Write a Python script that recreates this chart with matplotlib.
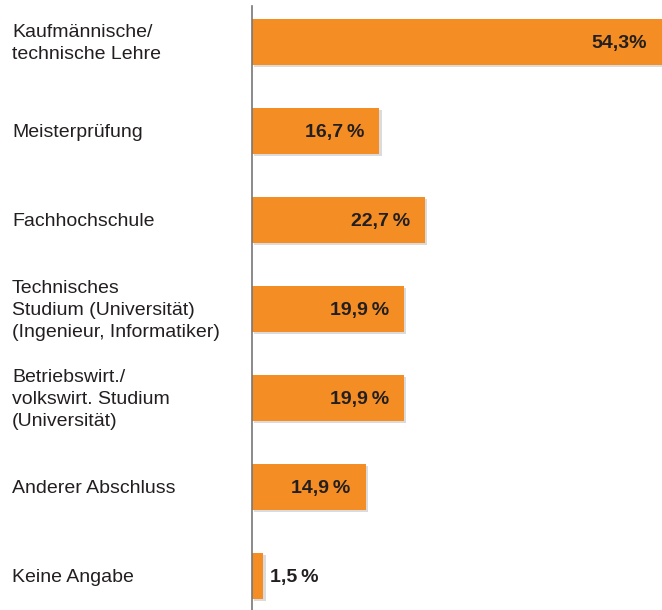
import matplotlib.pyplot as plt
import matplotlib.patheffects as pe

categories = ["Kaufmännische/\ntechnische Lehre", "Meisterprüfung", "Fachhochschule",
              "Technisches\nStudium (Universität)\n(Ingenieur, Informatiker)",
              "Betriebswirt./\nvolkswirt. Studium\n(Universität)",
              "Anderer Abschluss", "Keine Angabe"]
values = [54.3, 16.7, 22.7, 19.9, 19.9, 14.9, 1.5]
value_labels = ["54,3%", "16,7\u2009%", "22,7\u2009%", "19,9\u2009%", "19,9\u2009%", "14,9\u2009%", "1,5\u2009%"]

plt.rcParams['font.family'] = ['Liberation Sans', 'DejaVu Sans']

W, H = 662, 610
fig = plt.figure(figsize=(W / 100, H / 100), dpi=100)
ax = fig.add_axes([252 / W, 0, (W - 252) / W, (H - 6) / H])

pos = list(range(len(values)))
bars = ax.barh(pos, values, height=0.517, color='#F48D23', zorder=2)
for b in bars:
    b.set_path_effects([pe.SimplePatchShadow(offset=(1.5, -1.5), shadow_rgbFace='#999999', alpha=0.35),
                        pe.Normal()])

xmax = 410 / 7.63
ax.set_xlim(0, xmax)
ax.set_ylim(6.382, -0.404)

for i, (v, lab) in enumerate(zip(values, value_labels)):
    if v > 5:
        ax.annotate(lab, (min(v, xmax), i), xytext=(-15, -2), textcoords='offset pixels',
                    ha='right', va='center', fontsize=14, fontweight='bold', color='#231f20')
    else:
        ax.annotate(lab, (v, i), xytext=(7, -2), textcoords='offset pixels',
                    ha='left', va='center', fontsize=14, fontweight='bold', color='#231f20')

for i, c in enumerate(categories):
    ax.annotate(c, (0, i), xycoords=('axes fraction', 'data'), xytext=(-240, -1.5),
                textcoords='offset pixels', ha='left', va='center', fontsize=14,
                color='#231f20', linespacing=1.4, annotation_clip=False)

for s in ['top', 'right', 'bottom']:
    ax.spines[s].set_visible(False)
ax.spines['left'].set_color('#777777')
ax.spines['left'].set_linewidth(1.2)
ax.spines['left'].set_zorder(3)
ax.set_xticks([])
ax.set_yticks([])

fig.savefig('out.png', dpi=100)
